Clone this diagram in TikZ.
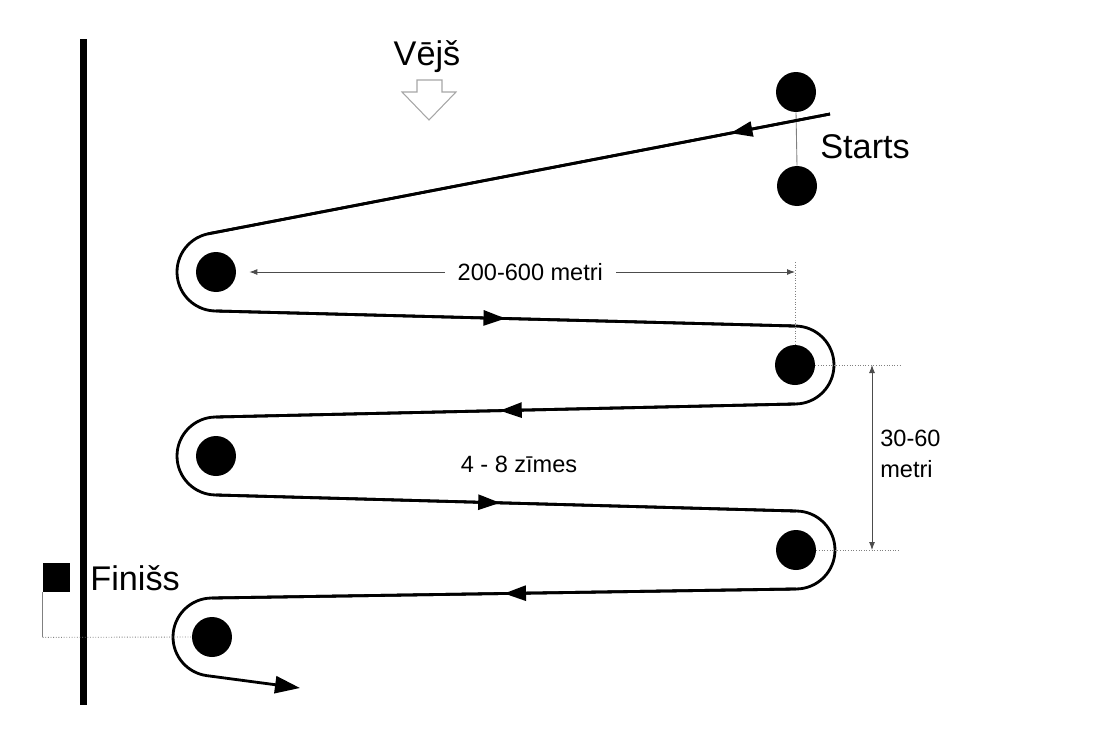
\documentclass[tikz,border=0pt]{standalone}
\usepackage{fontspec}
\setmainfont{Liberation Sans}
\usetikzlibrary{arrows.meta,calc,decorations.markings}
\tikzset{
buoy/.style={circle, fill=black, minimum size=0.8cm, inner sep=0pt},
course/.style={line width=1.6pt, black},
tipat/.style={postaction={decorate}, decoration={markings, mark=at position #1 with {\arrow{Triangle[length=0.44cm, width=0.3cm]}}}},
dimline/.style={gray!60!black, line width=0.5pt, {Latex[length=0.16cm,width=0.12cm]}-{Latex[length=0.16cm,width=0.12cm]}},
extline/.style={gray, line width=0.5pt, densely dotted},
big/.style={font=\fontsize{19.5pt}{23pt}\selectfont, inner sep=0pt},
small/.style={font=\fontsize{13.4pt}{18pt}\selectfont, inner sep=0pt, text=black}
}

\begin{document}
\begin{tikzpicture}[x=0.02cm, y=0.02cm]
\useasboundingbox (0,0) rectangle (1103,-751);

\node [buoy] (SA) at (796,-92) {};
\node [buoy] (SB) at (797,-186) {};
\node [buoy] (L1) at (216,-272) {};
\node [buoy] (R1) at (795,-365) {};
\node [buoy] (L2) at (216,-456) {};
\node [buoy] (R2) at (796,-550) {};
\node [buoy] (L3) at (212,-637) {};
\node [rectangle, fill=black, minimum width=0.54cm, minimum height=0.58cm, inner sep=0pt] (FIN) at (56.5,-577.5) {};

\node [big, anchor=base] (wind) at (427,-65) {Vējš};
\node [big, anchor=base west] (start) at (820,-158) {Starts};
\node [big, anchor=base west] (finish) at (90,-590) {Finišs};
\node [small] (marks) at (519,-464) {4 - 8 zīmes};
\node [small, anchor=west, align=left] (gap) at (880,-454) {30-60\\metri};

\draw[line width=0.14cm] (83.5,-39) -- (83.5,-705);
\draw[gray!70, line width=0.6pt, fill=white] (417,-80) -- (442,-80) -- (442,-92) -- (456,-92) -- (429,-120) -- (402,-92) -- (417,-92) -- cycle;

\draw[gray, line width=0.5pt] (SA.south) -- (SB.north);

\coordinate (go) at (830,-114);
\coordinate (a1) at ($(L1)+(102:39)$);
\coordinate (b1) at ($(L1)+(0,-39)$);
\coordinate (c1) at ($(R1)+(0,39)$);
\coordinate (d1) at ($(R1)+(0,-39)$);
\coordinate (a2) at ($(L2)+(0,39)$);
\coordinate (b2) at ($(L2)+(0,-39)$);
\coordinate (c2) at ($(R2)+(0,39)$);
\coordinate (d2) at ($(R2)+(0,-39)$);
\coordinate (a3) at ($(L3)+(0,39)$);
\coordinate (tail) at (300,-688);
\coordinate (w) at (L1 -| R1);

\draw[course, -{Triangle[length=0.5cm, width=0.34cm]}] (go) -- (a1) arc[start angle=102, end angle=270, radius=0.78cm]
  -- (c1) arc[start angle=90, end angle=-90, radius=0.78cm]
  -- (a2) arc[start angle=90, end angle=270, radius=0.78cm]
  -- (c2) arc[start angle=90, end angle=-90, radius=0.78cm]
  -- (a3) arc[start angle=90, end angle=262, radius=0.78cm] -- (tail);
\foreach \p/\q/\f in {go/a1/0.16, b1/c1/0.5, d1/a2/0.51, b2/c2/0.49, d2/a3/0.5}
  \draw[course, tipat=\f] (\p) -- (\q);

\draw[dimline] ([xshift=0.26cm]L1.east) -- (w) node[small, pos=0.515, fill=white, inner xsep=0.26cm] (span) {200-600 metri};
\draw[extline] ([yshift=0.2cm]w) -- (R1.north);
\draw[dimline] ($(R1)+(77,0)$) -- ($(R2)+(76,0)$);
\draw[extline] (R1.east) -- ($(R1)+(105,0)$);
\draw[extline] (R2.east) -- ($(R2)+(104,0)$);

\draw[gray, line width=0.5pt] (FIN.south west) -- ++(0,-45) coordinate (fc);
\draw[extline] (fc) -- (L3.west);
\end{tikzpicture}
\end{document}
